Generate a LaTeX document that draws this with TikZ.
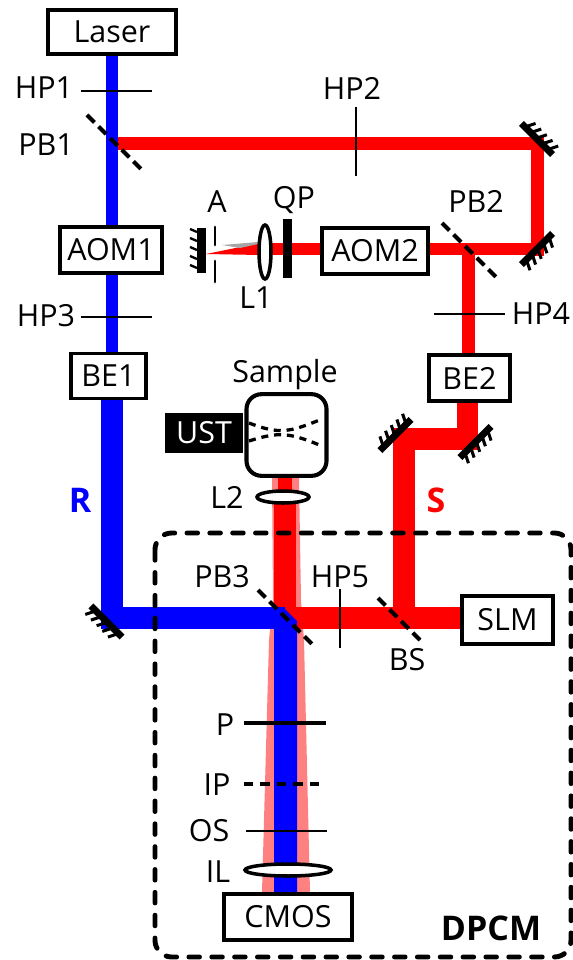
\documentclass[tikz,border=0pt]{standalone}
\usepackage{fontspec}
\setmainfont{Open Sans}
\usetikzlibrary{calc}
\definecolor{beamred}{RGB}{255,0,0}
\definecolor{beamblue}{RGB}{0,0,255}
\definecolor{beampink}{RGB}{255,128,128}
\tikzset{
  every node/.style={font=\fontsize{26}{26}\selectfont, inner sep=0},
  boldlabel/.style={font=\fontsize{29}{29}\selectfont\bfseries},
  devbox/.style={draw=black, line width=3.2pt, fill=white},
  thinbeam/.style={line width=11pt},
  widebeam/.style={line width=18.5pt},
  plate/.style={black, line width=2.4pt},
  splitter/.style={black, line width=3.4pt, dash pattern=on 9pt off 5pt},
  mirror/.pic={
    \fill[black] (-22,-3.5) rectangle (22,3.5);
    \foreach \t in {-16,-8,0,8,16} {
      \draw[black, line width=2.6pt] (\t,2) --++(-4,8);
    }
  }
}
\begin{document}
\begin{tikzpicture}[x=0.03cm,y=-0.03cm]
\useasboundingbox (0,0) rectangle (573,960);
% named points of the beams
\coordinate (PBone) at (112,143.5);
\coordinate (TR) at (537.5,143.5);
\coordinate (BR) at (537.5,249);
\coordinate (PBtwo) at (468.5,249);
\coordinate (PBthree) at (285,618);
\coordinate (BSplit) at (404,629);
\coordinate (ML) at (112,618);
\coordinate (KL) at (404,439);
\coordinate (KR) at (467.5,439);
% fringe
\fill[beampink] (272,478) -- (299,478) -- (301,600) -- (304,640) -- (310,892) -- (262,892) -- (269,640) -- (273,600) -- cycle;
% beams
\fill[beamred] (206,254) -- (260,243) -- (260,255) -- cycle;
\fill[gray!70] (222,245) -- (258,242) -- (258,244) -- (240,248) -- cycle;
\draw[beamred, thinbeam] (PBone) -- (TR) -- ($(BR)+(0,6.5)$);
\draw[beamred, thinbeam] (BR) -- (265,249);
\draw[beamred, thinbeam] (PBtwo) -- (468.5,360);
\draw[beamred, widebeam, line join=miter] (467.5,400) -- (KR) -- (KL) -- (BSplit);
\draw[beamred, widebeam] (PBthree) -- (470,618);
\draw[beamred, line width=12pt] (285,478) -- (285,497);
\draw[beamred, widebeam] (285,497) -- (PBthree);
\draw[beamblue, thinbeam] (112,50) -- (112,360);
\draw[beamblue, widebeam] (112,390) -- (ML) -- (PBthree);
\fill[beamblue] (274,608) -- (284,608) -- (297,621) -- (297,892) -- (274,892) -- cycle;
% boxes
\node[devbox, minimum width=3.84cm, minimum height=1.3cm] (laser) at (112,32) {Laser};
\node[devbox, minimum width=3.06cm, minimum height=1.4cm] (aomone) at (111,250) {AOM1};
\node[devbox, minimum width=3.2cm, minimum height=1.4cm] (aomtwo) at (375,251) {AOM2};
\node[devbox, minimum width=2.25cm, minimum height=1.35cm] (beone) at (108.5,376) {BE1};
\node[devbox, minimum width=2.45cm, minimum height=1.4cm] (betwo) at (469.5,378) {BE2};
\node[devbox, minimum width=2.75cm, minimum height=1.45cm] (slm) at (507.5,620) {SLM};
\node[devbox, minimum width=3.85cm, minimum height=1.4cm] (cmos) at (288,917) {CMOS};
\node[fill=black, text=white, minimum width=2.33cm, minimum height=1.18cm] (ust) at (204,433) {UST};
\node[draw=black, line width=3.5pt, rounded corners=4.5mm, fill=white, minimum width=2.4cm, minimum height=2.45cm] (sample) at (286.5,435) {};
\draw[black, line width=2.8pt, dash pattern=on 6pt off 5pt] (249,423) .. controls (280,435) and (290,432) .. (322,419);
\draw[black, line width=2.8pt, dash pattern=on 6pt off 5pt] (249,441) .. controls (280,431) and (290,433) .. (322,446);
% plates
\draw[plate] (81,91) -- (152,91);
\draw[plate] (356,107) -- (356,176);
\draw[plate] (81,317) -- (152,317);
\draw[plate] (434,314) -- (505,314);
\draw[plate] (340,589) -- (340,648);
\draw[plate, line width=3.5pt] (244,723) -- (326,723);
\draw[plate, line width=3.5pt, dash pattern=on 8pt off 6pt] (244,784) -- (326,784);
\draw[plate] (246,831) -- (327,831);
% splitters
\foreach \a/\b/\c in {87/115/55, 442/223/55, 258/590/55, 378/598/42} {
  \draw[splitter] (\a,\b) --++(\c,\c);
}
% lenses
\draw[black, line width=3pt, fill=white] (265,252) ellipse (6 and 27);
\draw[black, line width=3pt, fill=white] (283,497) ellipse (26 and 6);
\draw[black, line width=3pt, fill=white] (288,870) ellipse (43 and 6);
% quarter plate and aperture
\fill[black] (283,219) rectangle (292,278);
\draw[black, line width=2.5pt, line cap=round] (215,227) -- (215,245);
\draw[black, line width=2.5pt, line cap=round] (215,261) -- (215,282);
% mirrors
\pic[rotate=135] at (537,139) {mirror};
\pic[rotate=45] at (537,249) {mirror};
\pic[rotate=45] at (475.5,442) {mirror};
\pic[rotate=225] at (395.5,435) {mirror};
\pic[rotate=-45] at (106.5,621.5) {mirror};
\fill[black] (197,228) rectangle (206,273);
\foreach \y in {232,241,250,259,268} {
  \draw[black, line width=2pt] (197,\y) --++(-7,-3);
}
% dashed frame
\draw[black, line width=4.2pt, line cap=round, rounded corners=5mm, dash pattern=on 9pt off 10.5pt] (155,533) rectangle (571,957);
% labels
\node (lhpone) at (44,88) {HP1};
\node (lpbone) at (46,145) {PB1};
\node (lhptwo) at (352,88) {HP2};
\node (la) at (217,202) {A};
\node (lqp) at (294,200) {QP};
\node (lpbtwo) at (476,201) {PB2};
\node (llone) at (256,298) {L1};
\node (lhpthree) at (46,316) {HP3};
\node (lhpfour) at (541,314) {HP4};
\node (lsample) at (285,375) {Sample};
\node (lltwo) at (227,497) {L2};
\node[text=beamblue, boldlabel] (lr) at (80,500) {R};
\node[text=beamred, boldlabel] (ls) at (436,500) {S};
\node (lpbthree) at (222,577) {PB3};
\node (lhpfive) at (340,577) {HP5};
\node (lbs) at (407,660) {BS};
\node (lp) at (225,725) {P};
\node (lip) at (217,785) {IP};
\node (los) at (209,831) {OS};
\node (lil) at (218,872) {IL};
\node[boldlabel] (ldpcm) at (491,928) {DPCM};
\end{tikzpicture}
\end{document}
